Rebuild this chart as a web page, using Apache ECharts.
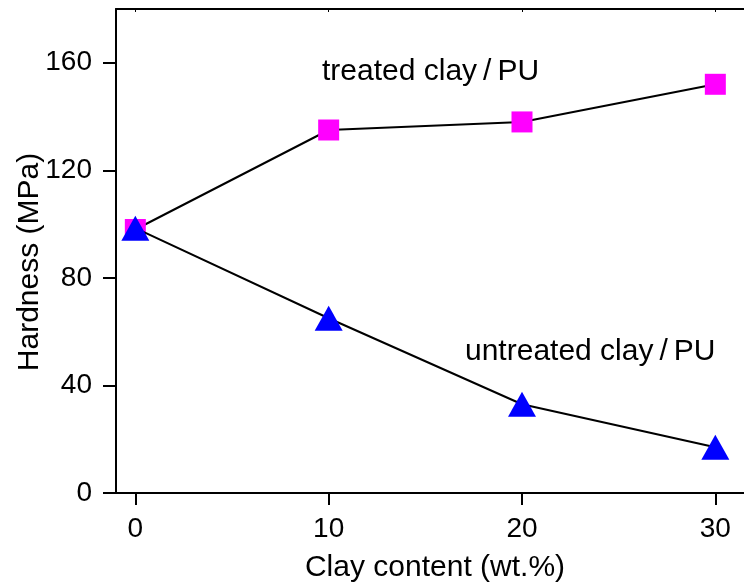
<!DOCTYPE html>
<html>
<head>
<meta charset="utf-8">
<script src="https://cdn.jsdelivr.net/npm/echarts@6/dist/echarts.min.js"></script>
<style>
  html, body { margin: 0; padding: 0; background: #fff; }
  #chart { width: 744px; height: 586px; }
</style>
</head>
<body>
<div id="chart"></div>
<script>
// Clay content (wt.%) and measured hardness (MPa)
const clayContent = [0, 10, 20, 30];
const treatedHardness = [98, 135, 138, 152];
const untreatedHardness = [98.5, 65, 33, 17];
const xTicks = [0, 10, 20, 30];
const yTicks = [0, 40, 80, 120, 160];

const FONT = '"Liberation Sans", Arial, Helvetica, sans-serif';

const pairs = (xs, ys) => xs.map((x, i) => [x, ys[i]]);

const chart = echarts.init(document.getElementById('chart'), null, { renderer: 'canvas' });

const axisLine = { show: true, onZero: false, lineStyle: { color: '#000', width: 2 } };

chart.setOption({
  backgroundColor: '#fff',
  animation: false,
  grid: { left: 116, top: 9, right: -10, bottom: 93, containLabel: false, outerBoundsMode: 'none' },
  xAxis: [
    {
      type: 'value',
      min: -1,
      max: 32,
      position: 'bottom',
      axisLine: axisLine,
      splitLine: { show: false },
      axisTick: { show: true, inside: false, length: 12, customValues: xTicks, lineStyle: { color: '#000', width: 2 } },
      axisLabel: { customValues: xTicks, margin: 22, color: '#000', fontSize: 28, fontFamily: FONT },
      name: 'Clay content (wt.%)',
      nameLocation: 'middle',
      nameGap: 60,
      nameTextStyle: { color: '#000', fontSize: 30, fontFamily: FONT }
    },
    {
      type: 'value',
      min: -1,
      max: 32,
      position: 'top',
      axisLine: axisLine,
      splitLine: { show: false },
      axisTick: { show: true, inside: true, length: 3, customValues: xTicks, lineStyle: { color: '#000', width: 1 } },
      axisLabel: { show: false }
    }
  ],
  yAxis: {
    type: 'value',
    min: 0,
    max: 180,
    position: 'left',
    axisLine: axisLine,
    splitLine: { show: false },
    axisTick: { show: true, inside: false, length: 13, customValues: yTicks, lineStyle: { color: '#000', width: 2 } },
    axisLabel: { customValues: yTicks, margin: 24, color: '#000', fontSize: 28, fontFamily: FONT }
  },
  graphic: [
    {
      type: 'text',
      x: 30, y: 262, rotation: Math.PI / 2,
      style: { text: 'Hardness (MPa)', fill: '#000', font: '30px ' + FONT, align: 'center', verticalAlign: 'middle' }
    },
    {
      type: 'text',
      x: 322, y: 72,
      style: { text: 'treated clay\u2009/\u2009PU', fill: '#000', font: '30px ' + FONT, align: 'left', verticalAlign: 'middle' }
    },
    {
      type: 'text',
      x: 465, y: 352,
      style: { text: 'untreated clay\u2009/\u2009PU', fill: '#000', font: '30px ' + FONT, align: 'left', verticalAlign: 'middle' }
    }
  ],
  series: [
    {
      name: 'treated clay/PU',
      type: 'line',
      data: pairs(clayContent, treatedHardness),
      symbol: 'rect',
      symbolSize: 21,
      lineStyle: { color: '#000', width: 2 },
      itemStyle: { color: '#ff00ff' },
      z: 2
    },
    {
      name: 'untreated clay/PU',
      type: 'line',
      data: pairs(clayContent, untreatedHardness),
      symbol: 'triangle',
      symbolSize: [28, 25],
      lineStyle: { color: '#000', width: 2 },
      itemStyle: { color: '#0000ff' },
      z: 3
    }
  ]
});
</script>
</body>
</html>
